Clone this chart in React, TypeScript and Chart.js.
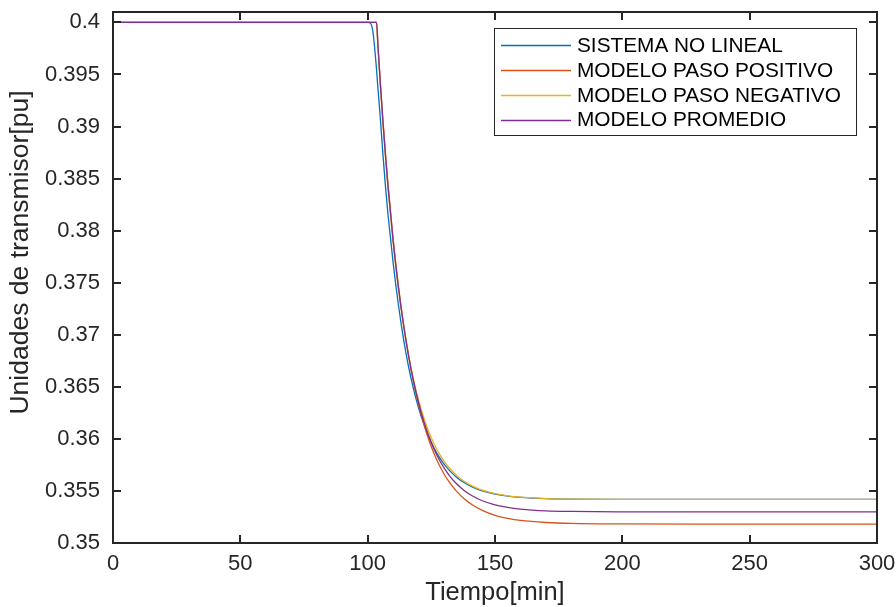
import React, { useEffect, useRef } from 'react';
import { Chart, registerables } from 'chart.js';

Chart.register(...registerables);

// ---- data ----
const times = [0, 100, 101, 102, 103, 103.5, 104, 105, 106, 107, 108, 110, 112, 114, 116, 118, 120, 122, 124, 126, 128, 130, 132, 135, 138, 141, 145, 150, 155, 160, 170, 180, 200, 230, 260, 300];

const sistemaNoLineal = [0.4, 0.4, 0.39995, 0.3992, 0.3969, 0.3954, 0.3938, 0.3907, 0.3873, 0.3842, 0.3815, 0.3769, 0.373, 0.3697, 0.367, 0.3648, 0.36296, 0.36144, 0.36018, 0.35914, 0.35829, 0.35757, 0.357, 0.3563, 0.35578, 0.35538, 0.355, 0.3547, 0.3545, 0.35438, 0.35426, 0.35421, 0.35419, 0.35419, 0.35419, 0.35419];

const modeloPasoPositivo = [0.4, 0.4, 0.4, 0.4, 0.4, 0.4, 0.39795, 0.39411, 0.39059, 0.38736, 0.3844, 0.3792, 0.37483, 0.37116, 0.36807, 0.36547, 0.3633, 0.36147, 0.35992, 0.35863, 0.35754, 0.35663, 0.35586, 0.35493, 0.35422, 0.35367, 0.35313, 0.35266, 0.35237, 0.35217, 0.35197, 0.35188, 0.35183, 0.35182, 0.35182, 0.35182];

const modeloPasoNegativo = [0.4, 0.4, 0.4, 0.4, 0.4, 0.4, 0.39787, 0.3939, 0.39029, 0.38701, 0.38403, 0.37886, 0.37458, 0.37104, 0.36812, 0.3657, 0.36371, 0.36206, 0.36069, 0.35956, 0.35863, 0.35786, 0.35723, 0.35647, 0.3559, 0.35548, 0.35507, 0.35474, 0.35453, 0.3544, 0.35427, 0.35422, 0.35419, 0.35419, 0.35419, 0.35419];

const modeloPromedio = [0.4, 0.4, 0.4, 0.4, 0.4, 0.4, 0.39791, 0.39401, 0.39044, 0.38719, 0.38422, 0.37902, 0.37469, 0.37108, 0.36807, 0.36556, 0.36347, 0.36173, 0.36027, 0.35906, 0.35805, 0.35721, 0.3565, 0.35566, 0.35502, 0.35454, 0.35406, 0.35367, 0.35342, 0.35326, 0.35309, 0.35303, 0.35299, 0.35298, 0.35298, 0.35298];

const seriesLabels = ['SISTEMA NO LINEAL', 'MODELO PASO POSITIVO', 'MODELO PASO NEGATIVO', 'MODELO PROMEDIO'];
const seriesValues = [sistemaNoLineal, modeloPasoPositivo, modeloPasoNegativo, modeloPromedio];
const seriesColors = ['#0072BD', '#D95319', '#EDB120', '#7E2F8E'];

const xTicks = [0, 50, 100, 150, 200, 250, 300];
const yTicks = [0.35, 0.355, 0.36, 0.365, 0.37, 0.375, 0.38, 0.385, 0.39, 0.395, 0.4];
const yTickLabels = ['0.35', '0.355', '0.36', '0.365', '0.37', '0.375', '0.38', '0.385', '0.39', '0.395', '0.4'];

const xTitle = 'Tiempo[min]';
const yTitle = 'Unidades de transmisor[pu]';

const FONT = "'Liberation Sans', Arial, Helvetica, sans-serif";
const AXIS_COLOR = '#262626';

const axesBoxPlugin = {
  id: 'axesBox',
  afterDatasetsDraw(chart: any) {
    const { ctx, chartArea: a, scales } = chart;
    const xs = scales.x;
    const ys = scales.y;
    const len = 8;
    ctx.save();
    ctx.strokeStyle = AXIS_COLOR;
    ctx.lineWidth = 2;
    ctx.beginPath();
    xs.ticks.forEach((t: any) => {
      const px = Math.round(xs.getPixelForValue(t.value));
      ctx.moveTo(px, a.bottom);
      ctx.lineTo(px, a.bottom - len);
      ctx.moveTo(px, a.top);
      ctx.lineTo(px, a.top + len);
    });
    ys.ticks.forEach((t: any) => {
      const py = Math.round(ys.getPixelForValue(t.value));
      ctx.moveTo(a.left, py);
      ctx.lineTo(a.left + len, py);
      ctx.moveTo(a.right, py);
      ctx.lineTo(a.right - len, py);
    });
    ctx.stroke();
    ctx.strokeRect(Math.round(a.left), Math.round(a.top), Math.round(a.right - a.left), Math.round(a.bottom - a.top));
    ctx.restore();
  },
};

// y-axis title drawn beside the axis (the reference sets it a little above the axis centre)
const yTitlePlugin = {
  id: 'yTitle',
  afterDraw(chart: any) {
    const { ctx, chartArea: a } = chart;
    ctx.save();
    ctx.translate(21, (a.top + a.bottom) / 2 - 25);
    ctx.rotate(-Math.PI / 2);
    ctx.font = `26.5px ${FONT}`;
    ctx.fillStyle = AXIS_COLOR;
    ctx.textAlign = 'center';
    ctx.textBaseline = 'middle';
    ctx.fillText(yTitle, 0, 0);
    ctx.restore();
  },
};

const boxLegendPlugin = {
  id: 'boxLegend',
  afterDraw(chart: any) {
    const { ctx, chartArea: a } = chart;
    const w = 362;
    const h = 107;
    const x0 = Math.round(a.right - 21 - w);
    const y0 = Math.round(a.top + 16);
    ctx.save();
    ctx.fillStyle = '#ffffff';
    ctx.fillRect(x0, y0, w, h);
    ctx.strokeStyle = AXIS_COLOR;
    ctx.lineWidth = 1;
    ctx.strokeRect(x0 + 0.5, y0 + 0.5, w, h);
    ctx.font = `20.8px ${FONT}`;
    ctx.textBaseline = 'middle';
    ctx.textAlign = 'left';
    chart.data.datasets.forEach((ds: any, i: number) => {
      const cy = y0 + 17 + i * 24.9;
      ctx.strokeStyle = ds.borderColor;
      ctx.lineWidth = 1.3;
      ctx.beginPath();
      ctx.moveTo(x0 + 7, Math.round(cy) + 0.5);
      ctx.lineTo(x0 + 77, Math.round(cy) + 0.5);
      ctx.stroke();
      ctx.fillStyle = '#000000';
      ctx.fillText(ds.label, x0 + 83, cy + 1);
    });
    ctx.restore();
  },
};

export default function App() {
  const canvasRef = useRef<HTMLCanvasElement | null>(null);

  useEffect(() => {
    document.body.style.margin = '0';
    const canvas = canvasRef.current;
    if (!canvas) return;
    const datasets = seriesLabels.map((label, i) => ({
      label,
      data: times.map((t, j) => ({ x: t, y: seriesValues[i][j] })),
      borderColor: seriesColors[i],
      backgroundColor: seriesColors[i],
      borderWidth: 1.3,
      pointRadius: 0,
      fill: false,
      cubicInterpolationMode: 'monotone' as const,
      order: seriesLabels.length - i,
    }));

    const zeroPad = (s: any) => {
      s.paddingTop = 0;
      s.paddingBottom = 0;
      s.paddingLeft = 0;
      s.paddingRight = 0;
    };

    const chart = new Chart(canvas, {
      type: 'line',
      data: { datasets },
      options: {
        animation: false,
        responsive: false,
        maintainAspectRatio: false,
        devicePixelRatio: 1,
        layout: { padding: { left: 0, right: 19, top: 12, bottom: 0 } },
        plugins: {
          legend: { display: false },
          tooltip: { enabled: false },
        },
        scales: {
          x: {
            type: 'linear',
            min: 0,
            max: 300,
            afterBuildTicks: (s: any) => {
              s.ticks = xTicks.map((v) => ({ value: v }));
            },
            afterFit: (s: any) => {
              s.height = 64;
              zeroPad(s);
            },
            grid: { display: false, drawTicks: false },
            border: { display: false },
            ticks: {
              autoSkip: false,
              maxRotation: 0,
              padding: 8,
              color: AXIS_COLOR,
              font: { family: FONT, size: 22 },
              callback: (v: any) => String(v),
            },
            title: {
              display: true,
              text: xTitle,
              color: AXIS_COLOR,
              font: { family: FONT, size: 25.5, lineHeight: '28px' },
              padding: { top: 0, bottom: 0 },
            },
          },
          y: {
            type: 'linear',
            min: 0.35,
            max: 0.401,
            afterBuildTicks: (s: any) => {
              s.ticks = yTicks.map((v) => ({ value: v }));
            },
            afterFit: (s: any) => {
              s.width = 113;
              zeroPad(s);
            },
            grid: { display: false, drawTicks: false },
            border: { display: false },
            ticks: {
              autoSkip: false,
              padding: 13,
              color: AXIS_COLOR,
              font: { family: FONT, size: 22 },
              callback: (_v: any, idx: number) => yTickLabels[idx],
            },
          },
        },
      },
      plugins: [axesBoxPlugin, yTitlePlugin, boxLegendPlugin],
    });

    return () => {
      chart.destroy();
    };
  }, []);

  return (
    <div style={{ width: 896, height: 607, background: '#ffffff' }}>
      <canvas ref={canvasRef} width={896} height={607} style={{ display: 'block', width: 896, height: 607 }} />
    </div>
  );
}
